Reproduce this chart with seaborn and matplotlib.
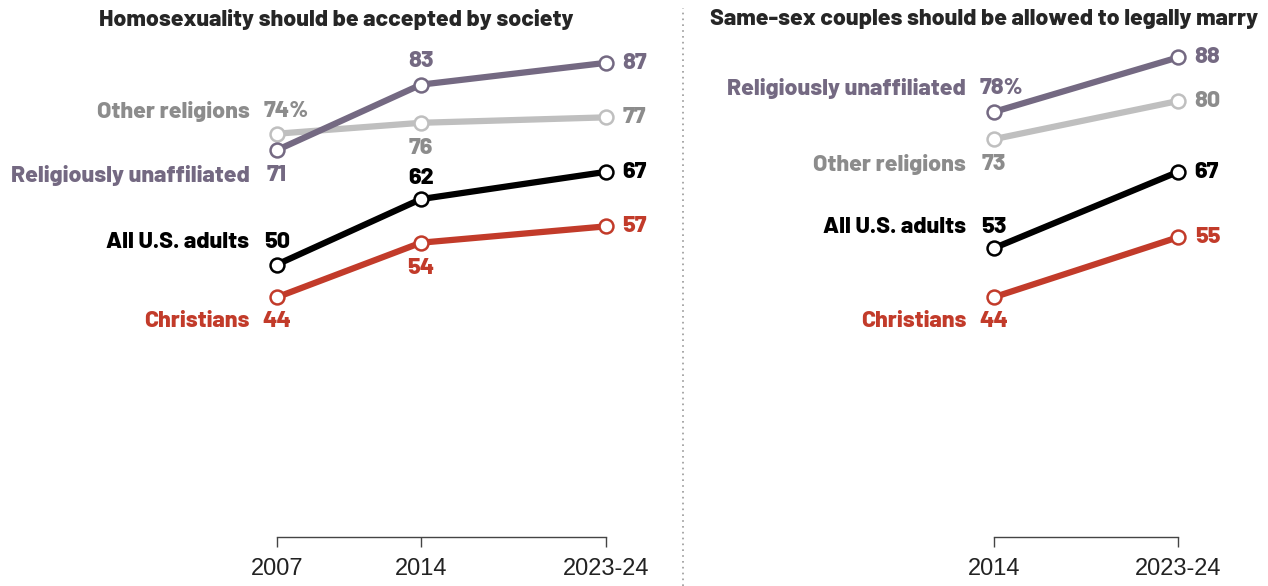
import pandas as pd
import matplotlib.pyplot as plt
from matplotlib.lines import Line2D
import seaborn as sns

# Data
years_left = [2007, 2014, 2023]
years_right = [2014, 2023]
tick_left = ['2007', '2014', '2023-24']
tick_right = ['2014', '2023-24']

accept_all = [50, 62, 67]
accept_christ = [44, 54, 57]
accept_other = [74, 76, 77]
accept_unaff = [71, 83, 87]

marry_all = [53, 67]
marry_christ = [44, 55]
marry_other = [73, 80]
marry_unaff = [78, 88]

groups = ['Other religions', 'Religiously unaffiliated', 'Christians', 'All U.S. adults']
line_colors = {'Other religions': '#bfbfbf', 'Religiously unaffiliated': '#746982',
               'Christians': '#c23b2a', 'All U.S. adults': '#000000'}
text_colors = {'Other religions': '#8c8c8c', 'Religiously unaffiliated': '#746982',
               'Christians': '#c23b2a', 'All U.S. adults': '#000000'}

sns.set_style('white')
plt.rcParams['font.family'] = ['Liberation Sans', 'DejaVu Sans']
bold_font = ['Barlow', 'Barlow Semi Condensed', 'DejaVu Sans']
WEIGHT = 800


def make_df(years, series):
    rows = []
    for g, vals in series.items():
        for y, v in zip(years, vals):
            rows.append({'year': y, 'value': v, 'group': g})
    return pd.DataFrame(rows)


df_left = make_df(years_left, {'Other religions': accept_other, 'Religiously unaffiliated': accept_unaff,
                               'Christians': accept_christ, 'All U.S. adults': accept_all})
df_right = make_df(years_right, {'Other religions': marry_other, 'Religiously unaffiliated': marry_unaff,
                                 'Christians': marry_christ, 'All U.S. adults': marry_all})

fig = plt.figure(figsize=(12.68, 5.86), dpi=100)
px = 1 / 1268
renderer = fig.canvas.get_renderer()


# pick font sizes so text widths match the reference
def fit_size(text, target_px, base=16):
    t = fig.text(0, 0, text, fontsize=base, fontweight=WEIGHT, family=bold_font)
    w = t.get_window_extent(renderer=renderer).width
    t.remove()
    return base * target_px / w


LAB = fit_size('Religiously unaffiliated', 238)
TITLE = fit_size('Homosexuality should be accepted by society', 473)

ax1 = fig.add_axes([256.5 * px, 49 / 586, 370 * px, 490.5 / 586])
ax2 = fig.add_axes([973.5 * px, 49 / 586, 225 * px, 490.5 / 586])


def draw(ax, df, years, ticks, xlim):
    for g in groups:
        sub = df[df['group'] == g]
        sns.lineplot(data=sub, x='year', y='value', ax=ax, color=line_colors[g], linewidth=4.5,
                     marker='o', markersize=10, markerfacecolor='white',
                     markeredgecolor=line_colors[g], markeredgewidth=1.8, clip_on=False)
    ax.set_xlim(*xlim)
    ax.set_ylim(0, 90)
    ax.set_xticks(years)
    ax.set_xticklabels(ticks, fontsize=17, color='#222222', family=['Liberation Sans', 'DejaVu Sans'])
    ax.set_yticks([])
    ax.set_xlabel('')
    ax.set_ylabel('')
    for s in ['left', 'right', 'top']:
        ax.spines[s].set_visible(False)
    ax.spines['bottom'].set_bounds(years[0], years[-1])
    ax.spines['bottom'].set_color('#444444')
    ax.spines['bottom'].set_linewidth(1)
    ax.tick_params(axis='x', bottom=True, direction='out', length=7, width=1, color='#444444', pad=8)
    ax.patch.set_alpha(0)


draw(ax1, df_left, years_left, tick_left, (2006, 2024))
draw(ax2, df_right, years_right, tick_right, (2013, 2024))


def lab(ax, x, y, s, g, dx, dy, ha='center', name=None):
    ax.annotate(s, (x, y), xytext=(dx, dy), textcoords='offset points', ha=ha, va='center',
                fontsize=LAB, fontweight=WEIGHT, color=text_colors[g], family=bold_font,
                annotation_clip=False)
    if name:
        ax.annotate(name, (x, y), xytext=(-20, dy), textcoords='offset points', ha='right',
                    va='center', fontsize=LAB, fontweight=WEIGHT, color=text_colors[g],
                    family=bold_font, annotation_clip=False)


# left panel labels
u, o, a, c = 'Religiously unaffiliated', 'Other religions', 'All U.S. adults', 'Christians'
lab(ax1, years_left[0], accept_other[0], f'{accept_other[0]}%', o, -9.5, 16, ha='left', name=o)
lab(ax1, years_left[0], accept_unaff[0], str(accept_unaff[0]), u, 0, -18, name=u)
lab(ax1, years_left[0], accept_all[0], str(accept_all[0]), a, 0, 16, name=a)
lab(ax1, years_left[0], accept_christ[0], str(accept_christ[0]), c, 0, -17, name=c)
lab(ax1, years_left[1], accept_unaff[1], str(accept_unaff[1]), u, 0, 17)
lab(ax1, years_left[1], accept_other[1], str(accept_other[1]), o, 0, -18)
lab(ax1, years_left[1], accept_all[1], str(accept_all[1]), a, 0, 15)
lab(ax1, years_left[1], accept_christ[1], str(accept_christ[1]), c, 0, -18)
for vals, g in [(accept_unaff, u), (accept_other, o), (accept_all, a), (accept_christ, c)]:
    lab(ax1, years_left[2], vals[2], str(vals[2]), g, 12, 0, ha='left')

# right panel labels
lab(ax2, years_right[0], marry_unaff[0], f'{marry_unaff[0]}%', u, -10, 17, ha='left', name=u)
lab(ax2, years_right[0], marry_other[0], str(marry_other[0]), o, 0, -18, name=o)
lab(ax2, years_right[0], marry_all[0], str(marry_all[0]), a, 0, 15, name=a)
lab(ax2, years_right[0], marry_christ[0], str(marry_christ[0]), c, 0, -17, name=c)
for vals, g in [(marry_unaff, u), (marry_other, o), (marry_all, a), (marry_christ, c)]:
    lab(ax2, years_right[1], vals[1], str(vals[1]), g, 12, 0, ha='left')

fig.text(336 * px, 1 - 19 / 586, 'Homosexuality should be accepted by society', ha='center',
         va='center', fontsize=TITLE, fontweight=WEIGHT, family=bold_font)
fig.text(984 * px, 1 - 19 / 586, 'Same-sex couples should be allowed to legally marry', ha='center',
         va='center', fontsize=TITLE, fontweight=WEIGHT, family=bold_font)

fig.add_artist(Line2D([683 * px, 683 * px], [0, 1 - 8 / 586], transform=fig.transFigure,
                      color='#999999', linestyle=(0, (1, 2.5)), linewidth=1.2))

fig.savefig('out.png', dpi=100)
